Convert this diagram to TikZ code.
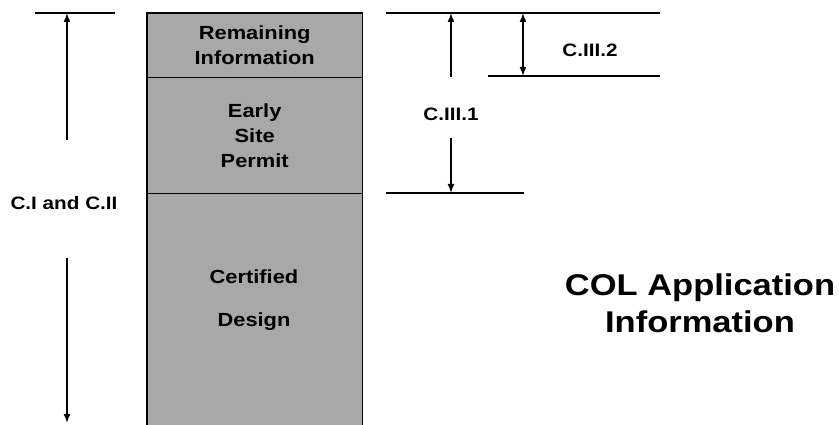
\documentclass[tikz,border=0pt]{standalone}
\usepackage{fontspec}
\newfontfamily\diagfont[FakeStretch=1.15]{Liberation Sans}
\usetikzlibrary{arrows.meta,positioning}
\definecolor{panelgrey}{HTML}{A8A8A8}
\tikzset{
  partbox/.style  = {fill=panelgrey, minimum width=215pt, align=center, inner sep=0pt,
                     font=\diagfont\bfseries\fontsize{19}{25}\selectfont},
  boxtext/.style  = {align=center, inner sep=0pt,
                     font=\diagfont\bfseries\fontsize{19}{43}\selectfont},
  boxedge/.style  = {draw=black, line width=1.8pt},
  divider/.style  = {draw=black, line width=0.8pt},
  hline/.style    = {draw=black, line width=1.8pt},
  dimarrow/.style = {-{Latex[length=9pt,width=7pt]}, draw=black, line width=1.6pt},
  dimboth/.style  = {{Latex[length=9pt,width=7pt]}-{Latex[length=9pt,width=7pt]}, draw=black, line width=1.6pt},
  dimlabel/.style = {inner sep=0pt, font=\diagfont\bfseries\fontsize{18}{20}\selectfont},
}
\begin{document}
\begin{tikzpicture}[x=1pt,y=1pt]
    \useasboundingbox (0,0) rectangle (839,425);
    \clip (0,0) rectangle (839,425);
    % stacked application parts
    \node[partbox,minimum height=64pt,anchor=north west] (rem) at (147,412) {Remaining\\Information};
    \node[partbox,minimum height=116pt,below=0pt of rem] (esp) {Early\\Site\\Permit};
    \node[partbox,minimum height=250pt,below=0pt of esp] (cert) {};
    \node[boxtext] (certtxt) at (254,125) {Certified\\Design};
    \draw[boxedge] (rem.north west) rectangle (cert.south east);
    \draw[divider] (rem.south west) -- (rem.south east);
    \draw[divider] (esp.south west) -- (esp.south east);
    % left dimension
    \coordinate (ltopL) at (35,412); \coordinate (ltopR) at (115,412);
    \coordinate (ciup) at (67,285); \coordinate (cidn) at (67,167); \coordinate (cibot) at (67,2);
    \draw[hline] (ltopL) -- (ltopR);
    \node[dimlabel] (ci) at (64,222) {C.I and C.II};
    \draw[dimarrow] (ciup) -- (ciup |- ltopL);
    \draw[dimarrow] (cidn) -- (cibot);
    % right dimensions
    \coordinate (rtopL) at (386,412); \coordinate (rtopR) at (660,412);
    \coordinate (rmidL) at (488,349); \coordinate (rmidR) at (660,349);
    \coordinate (rlowL) at (386,232); \coordinate (rlowR) at (524,232);
    \draw[hline] (rtopL) -- (rtopR);
    \draw[hline] (rmidL) -- (rmidR);
    \draw[hline] (rlowL) -- (rlowR);
    \node[dimlabel] (c31) at (451,311) {C.III.1};
    \coordinate (c31up) at (451,348); \coordinate (c31dn) at (451,287);
    \draw[dimarrow] (c31up) -- (c31up |- rtopL);
    \draw[dimarrow] (c31dn) -- (c31dn |- rlowL);
    \coordinate (c32a) at (523,349); \coordinate (c32b) at (523,412);
    \draw[dimboth] (c32a) -- (c32b);
    \node[dimlabel] (c32) at (590,375) {C.III.2};
    % title
    \node[align=center,inner sep=0pt,font=\diagfont\bfseries\fontsize{30}{37}\selectfont] (title) at (700,122) {COL Application\\Information};
\end{tikzpicture}
\end{document}
